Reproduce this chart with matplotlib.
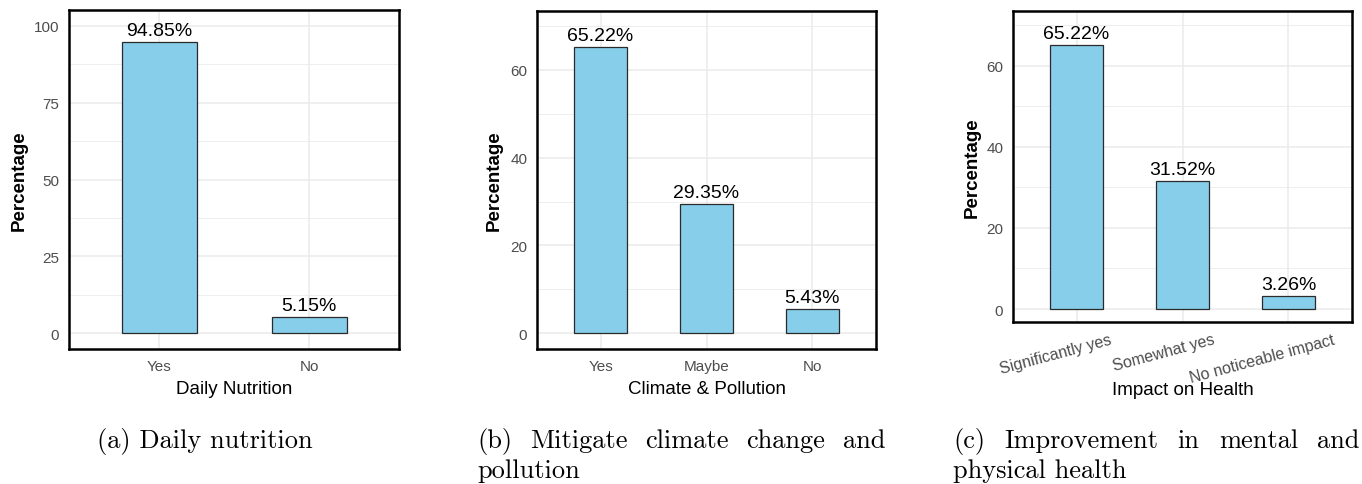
import matplotlib
matplotlib.use('Agg')
import matplotlib.pyplot as plt
from matplotlib.transforms import ScaledTranslation, blended_transform_factory

# data
nutrition_cats = ['Yes', 'No']
nutrition_vals = [94.85, 5.15]

climate_cats = ['Yes', 'Maybe', 'No']
climate_vals = [65.22, 29.35, 5.43]

health_cats = ['Significantly yes', 'Somewhat yes', 'No noticeable impact']
health_vals = [65.22, 31.52, 3.26]

nutrition_ticks = [0, 25, 50, 75, 100]
climate_ticks = [0, 20, 40, 60]
health_ticks = [0, 20, 40, 60]

W, H = 1362, 485
DPI = 100
BAR = '#87CEEB'
GRID = '#EBEBEB'
SANS = ['Liberation Sans', 'DejaVu Sans']

plt.rcParams['font.family'] = SANS
fig = plt.figure(figsize=(W / DPI, H / DPI), dpi=DPI)


def px_axes(left, top, right, bottom):
  return fig.add_axes([left / W, (H - bottom) / H, (right - left) / W, (bottom - top) / H])


def panel(ax, cats, vals, ticks, ylim, xlabel, ylabel_x, rotate=False):
  pos = list(range(1, len(cats) + 1))
  ax.set_xlim(0.4, len(cats) + 0.6)
  ax.set_ylim(*ylim)
  ax.set_axisbelow(True)
  # grid: major at ticks, minor in between
  minor = [(a + b) / 2 for a, b in zip(ticks[:-1], ticks[1:])]
  step = ticks[1] - ticks[0]
  if ticks[-1] + step / 2 < ylim[1]:
    minor.append(ticks[-1] + step / 2)
  ax.set_yticks(ticks)
  ax.set_yticks(minor, minor=True)
  ax.set_xticks(pos)
  ax.grid(True, which='major', color=GRID, lw=1.1)
  ax.grid(True, which='minor', axis='y', color=GRID, lw=0.6)
  ax.bar(pos, vals, width=0.5, color=BAR, edgecolor='#2a2a2a', lw=0.9, zorder=3)
  for x, v in zip(pos, vals):
    ax.annotate(f'{v:.2f}%', (x, v), xytext=(0, 5), textcoords='offset points',
                ha='center', va='baseline', fontsize=14, color='black', zorder=4)
  for s in ax.spines.values():
    s.set_linewidth(1.8)
    s.set_color('black')
  ax.tick_params(which='both', length=0, labelsize=11, labelcolor='#4D4D4D', pad=7)
  ax.set_yticklabels([str(t) for t in ticks])
  if rotate:
    ax.set_xticklabels(cats, rotation=15, ha='center', fontsize=11.5)
    ax.set_xlabel(xlabel, fontsize=13.5, color='black', labelpad=-3)
  else:
    ax.set_xticklabels(cats)
    ax.set_xlabel(xlabel, fontsize=13.5, color='black', labelpad=5)
  ax.set_ylabel('Percentage', fontsize=13.5, color='black', fontweight='bold')
  ax.yaxis.set_label_coords(ylabel_x, 0.5,
                            transform=blended_transform_factory(fig.transFigure, ax.transAxes))


ax1 = px_axes(69, 11, 399, 350)
panel(ax1, nutrition_cats, nutrition_vals, nutrition_ticks, (-5.2, 105.2),
      'Daily Nutrition', 28 / W)

ax2 = px_axes(537, 12, 876, 350)
panel(ax2, climate_cats, climate_vals, climate_ticks, (-3.6, 73.4),
      'Climate & Pollution', 503 / W)

ax3 = px_axes(1013, 12, 1352, 323)
panel(ax3, health_cats, health_vals, health_ticks, (-3.2, 73.5),
      'Impact on Health', 981 / W, rotate=True)

# shift the rotated labels a little to the left, like the reference
fig.canvas.draw()
for lab in ax3.get_xticklabels():
  w = lab.get_window_extent().width
  lab.set_transform(lab.get_transform() + ScaledTranslation(-0.18 * w / DPI, 0, fig.dpi_scale_trans))

# captions below the panels (serif, justified like the paper)
CAP = dict(family='cmr10', fontsize=19, color='black', va='baseline')
renderer = fig.canvas.get_renderer()


def justified(line, x0, x1, y):
  words = line.split()
  texts = [fig.text(0, 1 - y / H, w_, **CAP) for w_ in words]
  widths = [t.get_window_extent(renderer).width for t in texts]
  gap = (x1 - x0 - sum(widths)) / (len(words) - 1)
  x = x0
  for t, w_ in zip(texts, widths):
    t.set_x(x / W)
    x += w_ + gap


fig.text(205 / W, 1 - 448 / H, '(a) Daily nutrition', ha='center', **CAP)
justified('(b) Mitigate climate change and', 477, 885, 448)
fig.text(477 / W, 1 - 478 / H, 'pollution', **CAP)
justified('(c) Improvement in mental and', 953, 1360, 448)
fig.text(953 / W, 1 - 478 / H, 'physical health', **CAP)

fig.savefig('out.png', dpi=DPI)
